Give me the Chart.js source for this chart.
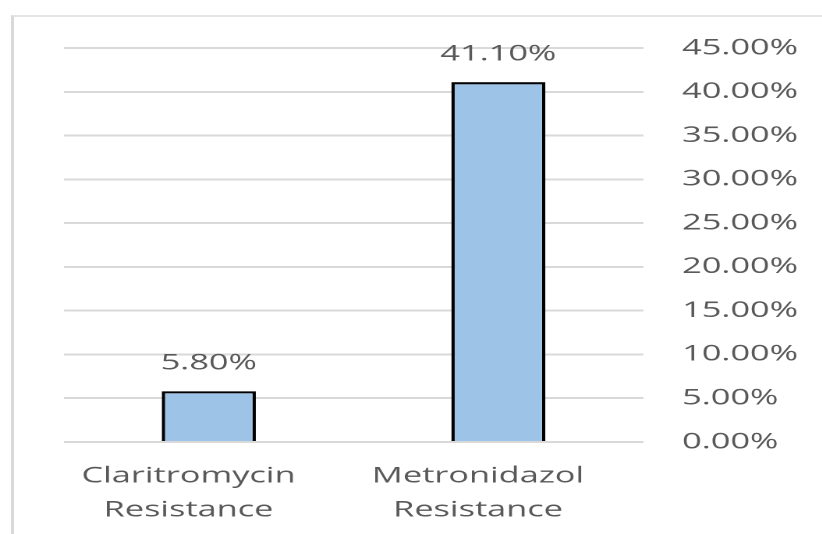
<!DOCTYPE html>
<html>
<head>
<meta charset="utf-8">
<script src="https://cdn.jsdelivr.net/npm/chart.js@4"></script>
<style>
  html, body { margin: 0; padding: 0; background: #fff; overflow: hidden; }
  #frame {
    position: absolute; left: 11px; top: 15px; width: 900px; height: 600px;
    border-left: 3px solid #d9d9d9; border-top: 2px solid #e4e4e4;
  }
  /* the original picture is stretched sideways, so the chart is drawn narrow and widened */
  #wrap {
    position: absolute; left: 0; top: 0; width: 527px; height: 534px;
    transform: scaleX(1.56); transform-origin: 0 0;
  }
</style>
</head>
<body>
<div id="frame"></div>
<div id="wrap"><canvas id="chart"></canvas></div>
<script>
// Daten
const categories = [['Claritromycin', 'Resistance'], ['Metronidazol', 'Resistance']];
const resistanceValues = [5.8, 41.1];
const yTicks = [0, 5, 10, 15, 20, 25, 30, 35, 40, 45];

const S = 1.56; // horizontal stretch
const textColor = '#595959';
const font = { family: '"Open Sans"', size: 22 };

// Werte über den Balken
const valueLabels = {
    id: 'valueLabels',
    afterDatasetsDraw(chart) {
        const ctx = chart.ctx;
        const meta = chart.getDatasetMeta(0);
        ctx.save();
        ctx.fillStyle = textColor;
        ctx.font = font.size + 'px ' + font.family;
        ctx.textAlign = 'center';
        ctx.textBaseline = 'middle';
        meta.data.forEach((bar, i) => {
            ctx.fillText(resistanceValues[i].toFixed(2) + '%', bar.x, bar.y - 28);
        });
        ctx.restore();
    }
};

new Chart(document.getElementById('chart'), {
    type: 'bar',
    data: {
        labels: categories,
        datasets: [{
            data: resistanceValues,
            backgroundColor: '#9dc3e6',
            borderColor: '#000000',
            borderWidth: 2.2,
            barPercentage: 0.325,
            categoryPercentage: 1
        }]
    },
    options: {
        responsive: true,
        maintainAspectRatio: false,
        devicePixelRatio: 2,
        animation: false,
        layout: { padding: { left: 64 / S, right: 0, top: 48, bottom: 0 } },
        plugins: { legend: { display: false }, tooltip: { enabled: false } },
        scales: {
            x: {
                grid: { display: false },
                border: { display: false },
                ticks: { color: textColor, font: { ...font, lineHeight: 1.55 }, padding: 9, labelOffset: -13, maxRotation: 0 },
                afterFit(scale) { scale.height = 534 - 442; }
            },
            y: {
                position: 'right',
                min: 0,
                max: 45,
                grid: { color: '#d9d9d9', lineWidth: 2, drawTicks: false },
                border: { display: false },
                ticks: {
                    color: textColor,
                    font: font,
                    padding: (682 - 643) / S,
                    callback: v => v.toFixed(2) + '%'
                },
                afterBuildTicks(scale) { scale.ticks = yTicks.map(v => ({ value: v })); },
                afterFit(scale) { scale.width = (822 - 643) / S; }
            }
        }
    },
    plugins: [valueLabels]
});
</script>
</body>
</html>
